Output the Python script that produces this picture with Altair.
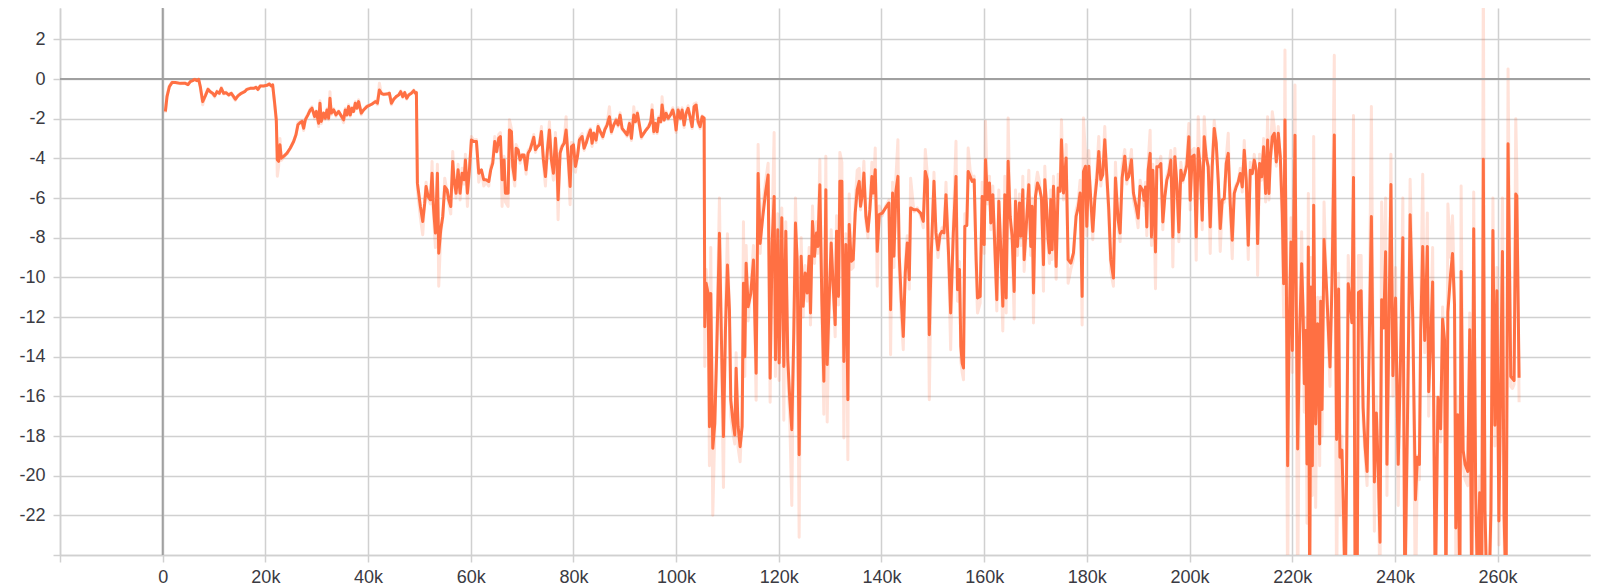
import altair as alt
import pandas as pd

# ---------------- data ----------------
steps_a = [519, 844, 1298, 1817, 2466, 3440, 4413, 4932, 5387, 5841,
           6230, 6685, 7009, 7334, 7788, 8307, 8826, 9281, 9735, 10124,
           10579, 11033, 11422, 11877, 12331, 12850, 13369, 13824, 14148, 14667,
           15316, 15965, 16420, 17069, 17718, 18172, 18561, 19016, 19665, 20314,
           20768, 21157, 21417, 21806, 22131, 22326, 22585, 22845, 23104, 23559,
           24208, 24857, 25506, 25960, 26349, 26804, 27128, 27453, 27777, 28296,
           28751, 29075, 29594, 29919, 30373, 30633, 30892, 31347, 31671, 31996,
           32320, 32580, 32839, 33294, 33748, 34267, 34786, 35241, 35565, 35890,
           36214, 36539, 36863, 37188, 37512, 37837, 38161, 38680, 39135, 39784]
smooth_a = [-1.64, -0.89, -0.39, -0.18, -0.18, -0.22, -0.22, -0.28, -0.13, -0.08,
            -0.02, -0.08, -0.02, -0.39, -1.14, -0.85, -0.52, -0.64, -0.72, -0.85,
            -0.64, -0.72, -0.47, -0.72, -0.69, -0.80, -0.72, -0.89, -1.02, -0.85,
            -0.72, -0.64, -0.52, -0.47, -0.47, -0.42, -0.52, -0.35, -0.35, -0.32,
            -0.25, -0.35, -0.30, -1.22, -2.06, -4.07, -4.15, -3.32, -3.99, -3.90,
            -3.74, -3.48, -3.15, -2.81, -2.31, -2.19, -2.14, -2.48, -2.06, -1.81,
            -1.56, -1.47, -1.89, -1.64, -2.23, -1.22, -2.14, -1.72, -1.98, -1.56,
            -1.98, -0.97, -1.72, -1.56, -1.81, -1.64, -1.86, -2.06, -1.56, -1.81,
            -1.39, -1.81, -1.47, -1.64, -1.22, -1.47, -1.14, -1.72, -1.56, -1.39]
raw_a = [-1.70, -0.85, -0.35, -0.15, -0.18, -0.24, -0.20, -0.30, -0.10, -0.05,
         0.00, -0.10, 0.00, -0.45, -1.30, -0.80, -0.48, -0.66, -0.76, -0.92,
         -0.60, -0.75, -0.42, -0.76, -0.66, -0.84, -0.70, -0.95, -1.08, -0.82,
         -0.70, -0.62, -0.50, -0.45, -0.48, -0.40, -0.55, -0.32, -0.36, -0.30,
         -0.22, -0.38, -0.28, -1.30, -2.20, -4.90, -4.40, -3.00, -4.10, -3.95,
         -3.78, -3.50, -3.12, -2.78, -2.20, -2.15, -2.10, -2.60, -2.00, -1.76,
         -1.50, -1.40, -2.00, -1.60, -2.40, -1.10, -2.25, -1.70, -2.05, -1.50,
         -2.05, -0.64, -1.80, -1.50, -1.88, -1.60, -1.92, -2.20, -1.48, -1.86,
         -1.30, -1.88, -1.42, -1.66, -1.15, -1.50, -1.05, -1.80, -1.54, -1.35]

steps_b = [40779, 41429, 41818, 42208, 42598, 43052, 43702, 44156, 44546, 45000,
           45455, 45974, 46364, 46754, 47143, 47533, 47923, 48442, 48897, 49221,
           49416, 49611, 49871, 50196, 50650, 51040, 51300, 51689, 52144, 52468,
           52728, 53118, 53508, 53767, 54157, 54547, 54936, 55391, 55715, 56105,
           56495, 56755, 57144, 57534, 57923, 58313, 58703, 58962, 59352, 59742,
           60131, 60586, 61106, 61560, 62080, 62534, 62989, 63508, 63898, 64288,
           64677, 65067, 65457, 65782, 66106, 66496, 66755, 67275, 67535, 67924,
           68184, 68574, 68833, 69223, 69613, 70002, 70392, 70782, 71171, 71561,
           71950, 72275, 72600, 72990, 73379, 73769, 74158, 74548, 74938, 75327,
           75717, 76107, 76496, 76756, 77016, 77405, 77795, 78185, 78574, 78964,
           79354, 79613, 80003, 80393, 80782, 81172, 81691, 82081, 82471, 82860]
smooth_b = [-1.26, -1.14, -1.22, -0.55, -0.72, -0.77, -0.76, -0.72, -1.22, -1.02,
            -0.89, -0.81, -0.64, -0.89, -0.69, -0.97, -0.81, -0.72, -0.59, -0.72,
            -0.69, -5.25, -5.76, -6.43, -7.18, -6.26, -5.42, -5.92, -6.09, -4.75,
            -6.43, -7.77, -4.75, -8.78, -7.60, -6.93, -5.42, -5.59, -6.09, -6.43,
            -4.16, -5.08, -5.76, -4.58, -5.76, -4.75, -5.08, -4.08, -5.76, -4.58,
            -3.07, -3.15, -3.15, -4.75, -4.58, -5.08, -5.08, -5.17, -4.58, -4.24,
            -3.15, -3.66, -2.99, -2.90, -5.08, -4.08, -5.76, -5.76, -2.57, -2.65,
            -4.41, -5.08, -3.49, -3.57, -4.08, -3.83, -3.83, -4.58, -3.74, -3.57,
            -3.24, -2.94, -3.57, -3.41, -3.32, -2.65, -4.08, -4.92, -3.57, -2.57,
            -4.08, -4.75, -2.99, -4.08, -6.09, -3.74, -3.41, -3.24, -2.57, -3.91,
            -5.42, -3.41, -3.32, -4.41, -3.91, -3.07, -2.90, -3.49, -3.24, -2.90]
raw_b = [-1.28, -1.10, -1.30, -0.22, -0.75, -0.80, -0.74, -0.70, -1.30, -1.00,
         -0.92, -0.78, -0.60, -0.94, -0.66, -1.02, -0.78, -0.70, -0.55, -0.75,
         -0.66, -5.60, -6.20, -7.00, -7.85, -6.10, -5.20, -6.00, -6.30, -4.16,
         -6.80, -8.50, -4.30, -10.45, -7.80, -7.00, -5.00, -5.70, -6.30, -6.80,
         -3.66, -5.20, -6.00, -4.30, -6.10, -4.50, -5.30, -3.80, -6.43, -4.40,
         -2.90, -3.10, -3.05, -5.20, -4.60, -5.40, -5.20, -5.40, -4.40, -4.10,
         -2.90, -3.70, -2.80, -2.70, -6.43, -3.90, -6.20, -6.43, -2.06, -2.50,
         -4.70, -5.40, -3.30, -3.55, -4.25, -3.80, -3.85, -4.80, -3.60, -3.50,
         -3.10, -2.80, -3.70, -3.35, -3.25, -2.40, -4.30, -5.40, -3.40, -2.15,
         -4.30, -5.10, -2.70, -4.20, -7.10, -3.55, -3.35, -3.15, -1.90, -4.10,
         -6.34, -3.20, -3.25, -4.70, -3.95, -2.95, -2.75, -3.60, -3.15, -2.70]

steps_c = [83310, 83635, 83960, 84414, 84804, 85259, 85713, 86103, 86557, 87012,
           87402, 87856, 88311, 88700, 89090, 89480, 90000, 90454, 90908, 91298,
           91753, 92077, 92467, 92857, 93246, 93701, 94155, 94675, 95065, 95324,
           95649, 95974, 96298, 96623, 97013, 97272, 97662, 98052, 98441, 98896,
           99351, 99740, 100000, 100390, 100844, 101169, 101559, 101948, 102338, 102727,
           103117, 103507, 103896, 104286, 104676, 105065, 105455, 105585, 105845, 106234,
           106494, 106754, 107143, 107533, 107923, 108442, 108832, 109221, 109611, 110000,
           110390, 110650, 111040, 111429, 111689, 112079, 112468, 112858, 113118, 113377,
           113637, 114027, 114546, 115066, 115586, 115975, 116365, 116884, 117404, 117923,
           118313, 118703, 119092]
smooth_c = [-2.57, -3.24, -2.74, -3.08, -2.40, -2.66, -2.91, -2.57, -2.32, -1.90,
            -2.66, -2.32, -2.07, -2.32, -1.82, -2.49, -2.66, -2.82, -2.24, -2.99,
            -1.82, -2.15, -1.73, -2.32, -2.91, -2.74, -2.57, -2.40, -2.15, -1.56,
            -2.66, -2.24, -2.66, -1.98, -2.15, -1.31, -2.07, -1.73, -1.98, -1.82,
            -1.56, -1.98, -2.57, -1.56, -1.98, -1.56, -2.32, -1.73, -1.48, -1.90,
            -2.40, -1.39, -1.31, -2.15, -2.40, -1.90, -1.98, -12.49, -10.30, -10.81,
            -17.53, -10.81, -18.62, -17.36, -13.66, -7.78, -13.16, -18.03, -12.66, -9.38,
            -11.65, -16.18, -17.19, -17.95, -14.59, -17.53, -18.54, -17.53, -10.30, -14.00,
            -9.29, -11.48, -10.81, -9.13, -14.84, -4.76, -8.29, -6.94, -5.76, -4.84,
            -15.09, -8.29, -5.93]
raw_c = [-2.50, -3.40, -2.70, -3.20, -2.30, -2.70, -3.00, -2.50, -2.25, -1.40,
         -2.75, -2.30, -2.00, -2.40, -1.70, -2.55, -2.70, -2.90, -2.15, -3.10,
         -1.40, -2.20, -1.65, -2.40, -3.00, -2.75, -2.55, -2.35, -2.10, -1.30,
         -2.75, -2.20, -2.75, -1.90, -2.20, -0.90, -2.10, -1.65, -2.05, -1.75,
         -1.45, -2.05, -2.70, -1.45, -2.05, -1.45, -2.45, -1.65, -1.35, -1.95,
         -2.50, -1.25, -1.20, -2.25, -2.50, -1.85, -1.95, -14.50, -9.60, -11.00,
         -19.50, -8.50, -22.00, -17.80, -12.80, -6.00, -14.00, -20.60, -11.60, -7.80,
         -12.20, -17.00, -17.80, -18.40, -13.80, -18.60, -19.30, -17.00, -7.20, -15.00,
         -8.40, -12.20, -10.50, -8.40, -16.20, -3.30, -8.80, -6.40, -5.20, -4.25,
         -16.30, -7.50, -2.70]

steps_d = [119350, 119805, 120065, 120585, 120975, 121365, 121755, 122145, 122535, 122925,
           123250, 123575, 123965, 124355, 124745, 125135, 125525, 125915, 126175, 126565,
           126955, 127345, 127605, 127995, 128385, 128775, 129165, 129425, 129815, 130205,
           130595, 130985, 131245, 131635, 131895, 132285, 132675, 133065, 133455, 133715,
           134105, 134495, 134885, 135275, 135665, 135925, 136315, 136575, 136965, 137355,
           137745, 138135, 138395, 138785, 139175, 139565, 140150, 140800, 141450, 141775,
           142165, 142425, 142815, 143205, 143465, 143855, 144245, 144635, 145025, 145415,
           145675, 146325, 146975, 147625, 148145, 148535, 148925, 149315, 149705, 150225,
           150615, 151005, 151395, 151785, 152175, 152565, 153085, 153475, 153995, 154515]
smooth_d = [-14.15, -7.60, -14.32, -7.00, -14.49, -7.68, -14.15, -16.17, -17.68, -12.81,
            -7.26, -9.11, -18.94, -8.94, -11.46, -9.78, -10.79, -8.94, -11.80, -7.18,
            -8.94, -7.76, -8.44, -5.33, -11.13, -15.24, -5.58, -14.40, -11.13, -8.27,
            -10.45, -12.39, -7.68, -10.96, -5.16, -5.16, -14.24, -8.35, -16.17, -7.34,
            -9.19, -9.11, -6.76, -5.58, -5.16, -6.42, -5.75, -4.74, -6.92, -7.68,
            -6.59, -4.91, -5.75, -4.57, -8.69, -6.84, -6.76, -6.50, -6.25, -11.63,
            -5.75, -8.94, -5.66, -4.91, -8.94, -11.13, -12.98, -9.78, -8.27, -10.12,
            -6.50, -6.59, -6.59, -6.76, -7.18, -4.66, -5.08, -12.89, -8.77, -5.16,
            -7.76, -8.61, -7.85, -7.68, -7.76, -5.83, -8.94, -11.80, -7.76, -4.91]
raw_d = [-15.00, -6.80, -15.20, -6.50, -17.20, -7.20, -15.00, -17.20, -21.50, -12.00,
         -6.00, -9.50, -23.10, -8.00, -12.00, -9.40, -11.20, -8.50, -12.40, -6.40,
         -9.30, -7.20, -8.80, -4.07, -11.80, -16.90, -3.90, -17.30, -11.50, -7.60,
         -10.90, -13.00, -6.90, -11.40, -3.70, -4.20, -18.10, -7.80, -19.20, -5.80,
         -9.60, -9.50, -6.20, -4.60, -4.50, -6.60, -5.30, -4.15, -7.20, -8.00,
         -6.20, -4.20, -5.90, -3.48, -10.45, -6.40, -6.90, -6.40, -6.10, -13.90,
         -5.20, -9.50, -5.00, -3.06, -9.60, -12.00, -13.65, -9.20, -7.90, -10.60,
         -5.00, -6.70, -6.50, -6.90, -7.50, -3.56, -4.80, -16.17, -9.20, -4.70,
         -8.00, -9.00, -8.00, -7.50, -8.00, -5.20, -9.40, -13.65, -7.20, -3.14]

steps_e = [154808, 155197, 155457, 155717, 155976, 156236, 156625, 156885, 157274, 157664,
           158053, 158442, 158702, 159221, 159611, 160000, 160260, 160649, 161038, 161298,
           161687, 162077, 162466, 162856, 163245, 163634, 164024, 164283, 164673, 165062,
           165452, 165841, 166101, 166490, 166879, 167139, 167528, 167788, 168177, 168697,
           169086, 169346, 169605, 169995, 170384, 170773, 171163, 171552, 171812, 172201,
           172461, 172720, 172980, 173240, 173499, 173759, 174018, 174408, 174797, 175057,
           175446, 175965, 176355, 176874, 177393, 177912, 178302, 178691, 179081, 179340,
           179730, 179989, 180379, 180768, 181157, 181547, 181936, 182326, 182715, 183104,
           183494, 183883, 184273, 184662, 185181, 185571, 186090, 186479, 186869, 187388,
           187777, 188167, 188686, 189075, 189594, 189984, 190373, 190957]
smooth_e = [-10.62, -9.61, -13.48, -14.32, -14.57, -7.43, -7.39, -4.66, -4.91, -5.16,
            -5.08, -9.11, -11.04, -10.96, -5.92, -8.35, -4.07, -6.08, -5.24, -7.26,
            -5.83, -8.44, -11.13, -6.17, -8.61, -11.46, -5.83, -11.04, -4.15, -6.92,
            -7.93, -10.71, -6.17, -8.44, -6.25, -7.93, -5.58, -9.11, -7.51, -5.33,
            -8.44, -6.42, -10.79, -5.92, -5.24, -5.50, -6.00, -9.36, -5.08, -6.59,
            -8.10, -8.77, -6.08, -8.61, -5.41, -7.09, -9.45, -5.50, -5.66, -3.06,
            -5.75, -3.98, -9.11, -9.28, -8.77, -6.92, -6.50, -5.75, -10.96, -4.66,
            -4.40, -7.43, -4.40, -6.08, -7.68, -6.08, -5.08, -3.65, -5.08, -4.82,
            -3.06, -4.82, -6.59, -9.11, -10.03, -4.99, -7.09, -7.76, -4.99, -3.90,
            -5.08, -4.91, -4.07, -5.75, -6.42, -7.01, -5.41, -5.66]
raw_e = [-11.20, -9.20, -14.20, -14.80, -15.16, -6.80, -7.00, -3.48, -4.60, -5.00,
         -4.90, -9.80, -11.80, -11.30, -5.20, -8.80, -2.13, -6.30, -4.90, -7.60,
         -5.40, -9.00, -11.70, -5.60, -9.00, -12.70, -4.90, -11.80, -1.97, -7.20,
         -8.30, -12.10, -5.60, -8.90, -5.80, -8.40, -4.90, -9.70, -7.80, -4.60,
         -8.90, -6.00, -12.30, -5.40, -4.70, -5.20, -6.20, -10.70, -4.40, -6.90,
         -8.50, -9.30, -5.60, -9.10, -4.90, -7.40, -10.10, -4.80, -5.30, -2.05,
         -6.10, -3.30, -10.30, -9.60, -9.10, -6.60, -6.20, -5.10, -12.40, -1.97,
         -3.80, -7.90, -3.60, -6.40, -8.10, -5.80, -4.60, -2.90, -5.40, -4.40,
         -2.40, -5.10, -7.00, -9.70, -10.45, -4.20, -7.50, -8.20, -4.40, -3.56,
         -5.30, -4.60, -3.56, -6.10, -6.80, -7.50, -5.10, -5.90]

steps_f = [191160, 191420, 191680, 191940, 192330, 192590, 192850, 193110, 193370, 193630,
           194020, 194410, 194800, 195190, 195580, 195970, 196360, 196750, 197140, 197530,
           197920, 198310, 198700, 199090, 199480, 199870, 200130, 200520, 200910, 201300,
           201690, 202080, 202470, 202860, 203250, 203640, 204030, 204420, 204810, 205200,
           205590, 205980, 206370, 206760, 207150, 207540, 207930, 208320, 208710, 209100,
           209490, 209880, 210270, 210660, 211050, 211440, 211830, 212220, 212610, 213000,
           213260, 213650, 214040, 214430, 214820, 215210, 215470, 215730, 216120, 216510,
           216900, 217290, 217680, 218070, 218330, 218590, 218850, 219110, 219370, 219760,
           220020, 220280, 220540, 220800, 221060, 221450, 221840, 222100, 222360, 222620,
           222880, 223140, 223400, 223660, 223920, 224180, 224570, 224960, 225350]
smooth_f = [-6.11, -5.44, -7.46, -4.60, -3.75, -7.96, -4.60, -6.46, -8.72, -4.43,
            -4.43, -4.26, -7.21, -5.94, -5.10, -4.76, -4.09, -7.96, -3.92, -5.27,
            -7.71, -4.60, -5.10, -4.76, -4.34, -2.91, -6.11, -3.92, -3.84, -7.96,
            -3.50, -4.43, -7.12, -2.91, -3.92, -4.43, -7.46, -4.43, -2.49, -3.25,
            -5.10, -7.54, -6.11, -6.03, -4.26, -3.75, -6.28, -8.13, -5.77, -5.44,
            -5.19, -4.76, -5.44, -3.59, -5.10, -8.38, -4.60, -4.76, -4.09, -4.60,
            -8.30, -4.26, -4.93, -3.42, -5.77, -3.08, -5.77, -4.09, -2.91, -2.74,
            -4.18, -2.74, -3.92, -6.78, -10.32, -2.07, -9.81, -19.50, -13.18, -8.22,
            -13.69, -7.96, -2.83, -11.50, -18.65, -12.85, -9.31, -11.50, -15.37, -12.68,
            -19.41, -8.47, -26.00, -10.49, -19.50, -6.36, -17.39, -12.34, -18.40]
raw_f = [-6.40, -5.20, -7.90, -4.20, -2.58, -8.40, -4.30, -6.80, -10.57, -4.10,
         -4.30, -3.90, -7.60, -5.80, -4.90, -4.50, -3.60, -9.48, -3.50, -5.40,
         -8.20, -4.20, -5.20, -4.60, -4.00, -2.24, -6.60, -3.60, -3.50, -9.14,
         -1.90, -4.40, -7.60, -1.90, -3.80, -4.40, -8.80, -4.10, -2.10, -3.10,
         -5.40, -8.70, -6.30, -6.20, -4.00, -2.74, -6.80, -9.06, -5.60, -5.30,
         -5.10, -4.50, -5.70, -3.10, -5.30, -9.10, -4.20, -4.80, -3.80, -4.80,
         -9.90, -3.80, -5.10, -3.00, -6.20, -1.90, -6.10, -3.80, -1.65, -2.40,
         -4.40, -2.40, -4.10, -7.80, -12.00, 1.46, -11.50, -27.00, -12.00, -7.00,
         -14.80, -6.20, -0.30, -12.60, -27.00, -12.00, -7.70, -12.30, -16.80, -12.00,
         -22.40, -5.77, -28.00, -9.00, -21.00, -2.90, -21.60, -11.00, -19.50]

steps_g = [225552, 225810, 226197, 226713, 227358, 227745, 228197, 228648, 229035, 229293,
           229680, 229938, 230325, 230583, 230906, 231293, 231615, 231938, 232260, 232647,
           232905, 233421, 233808, 234195, 234582, 234969, 235421, 236001, 236388, 236775,
           237098, 237420, 237807, 238194, 238452, 238839, 239226, 239613, 240129, 240645,
           241161, 241548, 241935, 242451, 242967, 243483, 243999, 244386, 244773, 245031,
           245418, 245805, 246321, 246579, 246966, 247353, 247869, 248385, 248901, 249288,
           249675, 249933, 250320, 250836, 251223, 251610, 251868, 252255, 252642, 252900,
           253287, 253674, 254190, 254577, 254964, 255351, 255738, 256125, 256512, 256899,
           257222, 257544, 257931, 258318, 258705, 259092, 259479, 259866, 260253, 260950,
           261260, 261650, 262040, 262570, 262900, 263210, 263540, 263740, 264190]
smooth_g = [-11.21, -16.66, -8.09, -10.68, -14.52, -10.32, -2.82, -18.18, -10.59, -19.07,
            -18.71, -21.21, -26.00, -20.14, -10.32, -11.21, -12.29, -4.96, -26.00, -26.00,
            -10.77, -10.68, -16.57, -18.54, -19.79, -13.89, -6.93, -20.32, -16.84, -19.79,
            -23.36, -11.13, -12.55, -8.71, -19.43, -12.46, -5.32, -14.96, -11.04, -19.43,
            -13.36, -8.00, -26.00, -17.11, -6.84, -12.11, -21.21, -19.07, -19.43, -12.64,
            -8.45, -13.18, -8.45, -15.77, -13.18, -10.23, -26.00, -16.04, -17.64, -12.11,
            -13.18, -26.00, -11.75, -9.88, -8.80, -11.39, -22.64, -16.93, -26.00, -9.70,
            -18.71, -19.43, -19.79, -12.64, -26.00, -7.55, -20.86, -26.00, -20.86, -26.00,
            -4.04, -21.75, -26.00, -26.00, -21.75, -7.64, -17.46, -10.68, -22.29, -8.70,
            -22.00, -26.00, -3.26, -15.00, -15.10, -15.20, -5.80, -5.90, -15.06]
raw_g = [-11.00, -18.00, -6.20, -10.90, -15.50, -9.50, 1.20, -27.00, -9.80, -22.00,
         -18.00, -22.50, -28.00, -19.00, -8.90, -11.50, -12.00, -1.84, -28.00, -28.00,
         -8.90, -8.90, -17.20, -19.00, -20.50, -13.00, -1.39, -22.80, -16.00, -20.50,
         -26.00, -6.20, -11.50, -6.00, -21.00, -11.80, -3.80, -16.00, -9.50, -21.50,
         -12.80, -6.00, -28.00, -18.20, -5.05, -11.50, -27.00, -19.00, -20.20, -11.50,
         -4.80, -13.80, -6.75, -17.00, -12.50, -8.50, -28.00, -16.50, -18.30, -11.50,
         -13.80, -28.00, -6.30, -9.00, -6.90, -11.00, -24.50, -16.00, -28.00, -5.40,
         -19.50, -20.20, -20.50, -11.80, -28.00, -5.70, -22.00, -28.00, -20.00, -28.00,
         6.00, -23.50, -28.00, -28.00, -22.50, -6.00, -18.50, -9.50, -23.50, -6.00,
         -23.00, -28.00, 0.50, -15.50, -15.60, -15.40, -2.00, -4.50, -16.30]

x_ticks = [-20000, 0, 20000, 40000, 60000, 80000, 100000, 120000, 140000,
           160000, 180000, 200000, 220000, 240000, 260000]
y_ticks = [-24, -22, -20, -18, -16, -14, -12, -10, -8, -6, -4, -2, 0, 2]

# ---------------- assemble ----------------
steps = steps_a + steps_b + steps_c + steps_d + steps_e + steps_f + steps_g
smooth = smooth_a + smooth_b + smooth_c + smooth_d + smooth_e + smooth_f + smooth_g
raw = raw_a + raw_b + raw_c + raw_d + raw_e + raw_f + raw_g
assert len(steps) == len(smooth) == len(raw)

df = pd.DataFrame({"step": steps, "smoothed": smooth, "raw": raw})
zero_df = pd.DataFrame({"v": [0]})

ORANGE = "#ff7043"
GRID = "#d0d0d0"
LABEL = "#3a3a42"
FONT = "Liberation Sans"

x_scale = alt.Scale(domain=[-20000, 278000], nice=False, zero=False)
y_scale = alt.Scale(domain=[-24, 3.58], nice=False, zero=False)

x_axis = alt.Axis(
    values=x_ticks, title=None, grid=True,
    labelExpr="datum.value == -20000 ? '' : (datum.value == 0 ? '0' : (datum.value / 1000) + 'k')",
    labelFont=FONT, labelFontSize=18, labelColor=LABEL, labelPadding=6,
    labelFlush=False, labelOverlap=False,
    tickSize=7, tickColor=GRID, tickWidth=1.5,
    domainColor=GRID, domainWidth=1.5,
    gridColor=GRID, gridWidth=1.5,
)
y_axis = alt.Axis(
    values=y_ticks, title=None, grid=True,
    labelExpr="datum.value == -24 ? '' : '' + datum.value",
    labelFont=FONT, labelFontSize=18, labelColor=LABEL, labelPadding=8,
    labelFlush=False, labelOverlap=False,
    tickSize=7, tickColor=GRID, tickWidth=1.5,
    domainColor=GRID, domainWidth=1.5,
    gridColor=GRID, gridWidth=1.5,
)

base = alt.Chart(df)

raw_line = base.mark_line(
    color=ORANGE, strokeWidth=3, opacity=0.2, clip=True, strokeJoin="round"
).encode(
    x=alt.X("step:Q", scale=x_scale, axis=x_axis),
    y=alt.Y("raw:Q", scale=y_scale, axis=y_axis),
)

smooth_line = base.mark_line(
    color=ORANGE, strokeWidth=3, clip=True, strokeJoin="round"
).encode(
    x=alt.X("step:Q", scale=x_scale),
    y=alt.Y("smoothed:Q", scale=y_scale),
)

zero_h = alt.Chart(zero_df).mark_rule(color="#a0a0a0", strokeWidth=2).encode(
    y=alt.Y("v:Q", scale=y_scale)
)
zero_v = alt.Chart(zero_df).mark_rule(color="#a0a0a0", strokeWidth=2).encode(
    x=alt.X("v:Q", scale=x_scale)
)

chart = alt.layer(raw_line, zero_h, zero_v, smooth_line).properties(
    width=1530,
    height=547,
    padding={"left": 52, "top": 0, "right": 2, "bottom": 32},
    autosize=alt.AutoSizeParams(type="none"),
).configure_view(stroke="transparent")

chart.save("out.html", embed_options={"renderer": "svg", "actions": False})
